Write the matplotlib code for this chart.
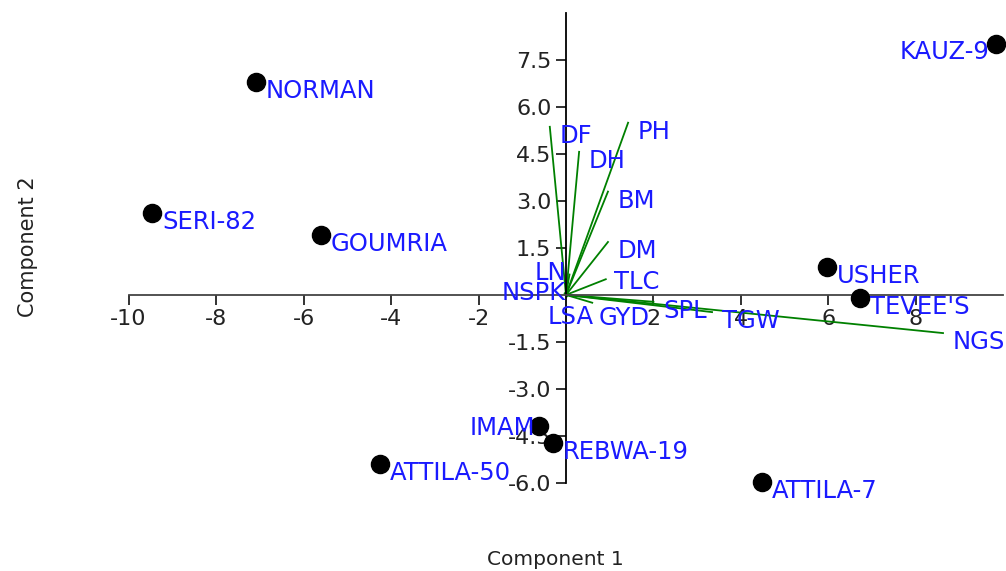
import matplotlib.pyplot as plt

plt.rcParams['font.family'] = ['DejaVu Sans']

# genotype scores
genotypes = ["NORMAN", "SERI-82", "GOUMRIA", "USHER", "TEVEE'S", "IMAM",
             "REBWA-19", "ATTILA-50", "ATTILA-7", "KAUZ-9"]
pc1 = [-7.09, -9.46, -5.60, 5.97, 6.72, -0.62, -0.30, -4.25, 4.48, 9.83]
pc2 = [6.80, 2.62, 1.92, 0.89, -0.10, -4.19, -4.73, -5.40, -5.97, 8.02]

# trait loadings
traits = ["DF", "DH", "PH", "BM", "DM", "TLC", "LN", "NSPK", "LSA", "GYD",
          "SPL", "TGW", "NGS"]
load1 = [-0.37, 0.30, 1.42, 0.96, 0.96, 0.91, 0.08, -0.03, 0.02, 0.60,
         2.00, 3.34, 8.62]
load2 = [5.37, 4.57, 5.50, 3.30, 1.69, 0.50, 0.65, 0.05, -0.05, -0.25,
         -0.22, -0.55, -1.22]

xticks = [-10, -8, -6, -4, -2, 2, 4, 6, 8]
yticks = [-6.0, -4.5, -3.0, -1.5, 1.5, 3.0, 4.5, 6.0, 7.5]

# label placement (offset in pixels, horizontal alignment)
default_off = (10, -9, 'left')
label_off = {
    "KAUZ-9": (-6, -8, 'right'),
    "IMAM": (-4, -2, 'right'),
    "TLC": (8, -3, 'left'),
    "LN": (-3, 2, 'right'),
    "NSPK": (1, 0, 'right'),
    "LSA": (-19, -21, 'left'),
    "GYD": (6, -15, 'left'),
}

fig = plt.figure(figsize=(10.06, 5.71), dpi=100)
ax = fig.add_axes([0, 0, 1, 1])
ax.set_xlim(-12.94, 10.06)
ax.set_ylim(-8.82, 9.42)

for x, y in zip(load1, load2):
    ax.plot([0, x], [0, y], color='#008000', lw=1.3, zorder=2)
for x, y, t in zip(load1, load2, traits):
    dx, dy, ha = label_off.get(t, default_off)
    ax.annotate(t, (x, y), xytext=(dx, dy), textcoords='offset pixels',
                ha=ha, va='center', color='#1a1aff', fontsize=17.5, zorder=4)

ax.scatter(pc1, pc2, s=170, color='black', zorder=5)
for x, y, g in zip(pc1, pc2, genotypes):
    dx, dy, ha = label_off.get(g, default_off)
    ax.annotate(g, (x, y), xytext=(dx, dy), textcoords='offset pixels',
                ha=ha, va='center', color='#1a1aff', fontsize=17.5, zorder=6)

for s in ['right', 'top']:
    ax.spines[s].set_visible(False)
ax.spines['left'].set_position(('data', 0))
ax.spines['bottom'].set_position(('data', 0))
ax.spines['left'].set_bounds(-6, 9)
ax.spines['bottom'].set_bounds(-10, 10)
ax.spines['left'].set_linewidth(1.3)
ax.spines['bottom'].set_linewidth(1.3)
ax.spines['bottom'].set_color('#444444')
ax.set_xticks(xticks)
ax.set_xticklabels([str(v) for v in xticks])
ax.set_yticks(yticks)
ax.set_yticklabels([f"{v:.1f}" for v in yticks])
ax.tick_params(axis='both', labelsize=16, length=7.5, width=1.3,
               colors='#222222', pad=3)

fig.text(0.552, 0.02, "Component 1", ha='center', va='center',
         fontsize=14.5, color='#222222')
fig.text(0.028, 0.568, "Component 2", ha='center', va='center',
         rotation=90, fontsize=15, color='#222222')

fig.savefig("out.png", dpi=100)
